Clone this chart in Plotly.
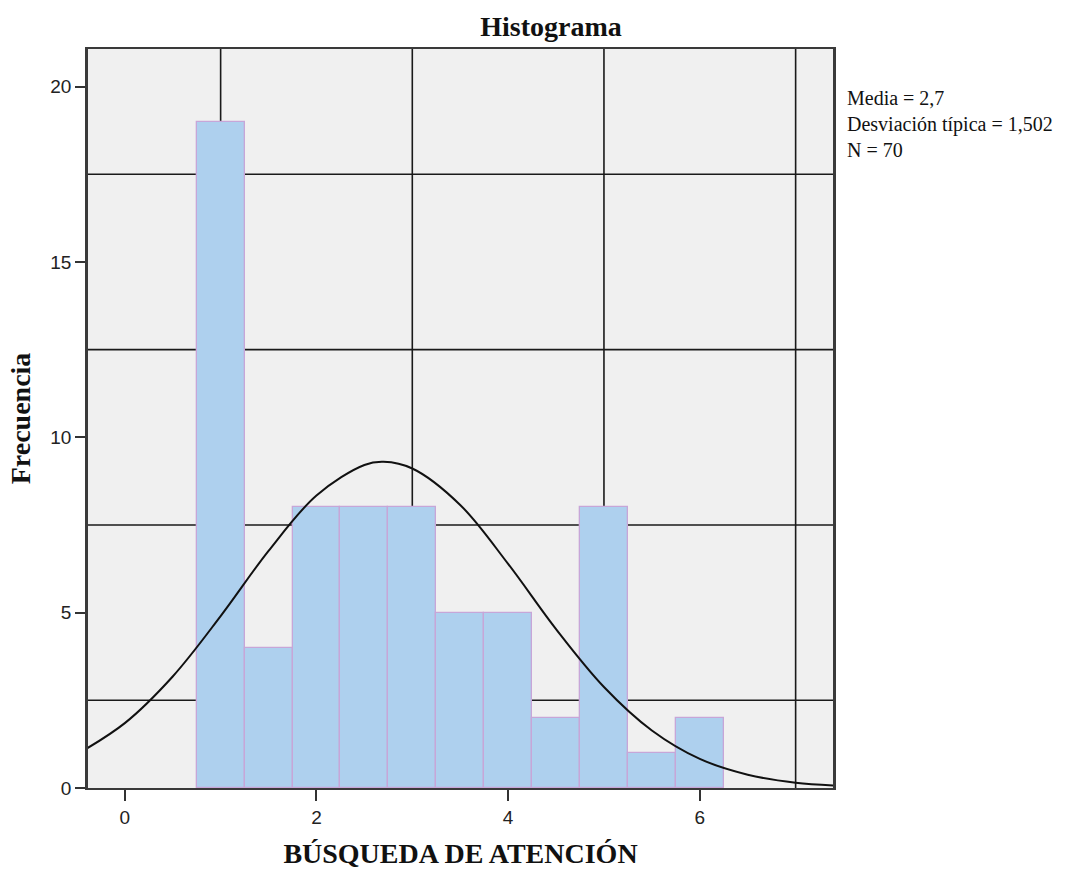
import plotly.graph_objects as go

# Histogram bins (centers) and frequencies
bin_centers = [1.0, 1.5, 2.0, 2.5, 3.0, 3.5, 4.0, 4.5, 5.0, 5.5, 6.0]
frequencies = [19, 4, 8, 8, 8, 5, 5, 2, 8, 1, 2]
bin_width = 0.5

# Normal curve
curve_x = [-0.5, 0.0, 0.5, 1.0, 1.5, 2.0, 2.5, 2.7, 3.0, 3.5, 4.0, 4.5, 5.0, 5.5, 6.0, 6.5, 7.0, 7.5]
curve_y = [0.96, 1.85, 3.18, 4.90, 6.76, 8.34, 9.21, 9.30, 9.11, 8.07, 6.39, 4.53, 2.88, 1.64, 0.83, 0.38, 0.15, 0.06]

stats_text = ["Media = 2,7", "Desviación típica = 1,502", "N = 70"]

x_ticks = [0, 2, 4, 6]
y_ticks = [0, 5, 10, 15, 20]
x_grid = [1, 3, 5, 7]
y_grid = [2.5, 7.5, 12.5, 17.5]

serif = "Liberation Serif"
sans = "Liberation Sans"

W, H = 1072, 869
L, R, T, B = 88, 239, 49, 81
plot_h = H - T - B

fig = go.Figure()
fig.add_trace(go.Bar(
    x=bin_centers, y=frequencies, width=bin_width,
    marker=dict(color="#aed0ee", line=dict(color="#c7a6d8", width=1.3)),
    showlegend=False, hoverinfo="x+y",
))
fig.add_trace(go.Scatter(
    x=curve_x, y=curve_y, mode="lines",
    line=dict(color="#111111", width=2, shape="spline", smoothing=1.0),
    showlegend=False, hoverinfo="skip",
))

grid_style = dict(color="#1a1a1a", width=1.6)
shapes = []
for gx in x_grid:
    shapes.append(dict(type="line", xref="x", yref="paper", x0=gx, x1=gx, y0=0, y1=1,
                       line=grid_style, layer="below"))
for gy in y_grid:
    shapes.append(dict(type="line", xref="paper", yref="y", x0=0, x1=1, y0=gy, y1=gy,
                       line=grid_style, layer="below"))

annotations = [dict(
    text="<br>".join(stats_text), xref="paper", yref="paper",
    x=(845 - L) / (W - L - R), xanchor="left",
    y=1.0 - (124 - T) / plot_h, yanchor="middle", align="left",
    showarrow=False, font=dict(family=serif, size=20, color="#111111"),
)]

fig.update_layout(
    width=W, height=H,
    margin=dict(l=L, r=R, t=T, b=B),
    paper_bgcolor="white",
    plot_bgcolor="#f0f0f0",
    bargap=0,
    shapes=shapes,
    annotations=annotations,
    title=dict(text="<b>Histograma</b>", font=dict(family=serif, size=28, color="#111111"),
               x=551 / W, xref="container", xanchor="center",
               y=1.0 - 26 / H, yref="container", yanchor="middle"),
)

fig.update_xaxes(
    range=[-0.384, 7.39],
    tickvals=x_ticks, ticktext=[str(v) for v in x_ticks],
    ticks="outside", ticklen=11, tickwidth=2, tickcolor="#333333",
    tickfont=dict(family=sans, size=19, color="#222222"),
    showgrid=False, zeroline=False, automargin=False,
    showline=True, linecolor="#3a3a3a", linewidth=2, mirror=True,
    title=dict(text="<b>BÚSQUEDA DE ATENCIÓN</b>", font=dict(family=serif, size=28, color="#111111"),
               standoff=24),
)
fig.update_yaxes(
    range=[0, 21.07],
    tickvals=y_ticks, ticktext=[str(v) for v in y_ticks],
    ticks="outside", ticklen=10, tickwidth=2, tickcolor="#333333",
    tickfont=dict(family=sans, size=19, color="#222222"),
    showgrid=False, zeroline=False, automargin=False,
    showline=True, linecolor="#3a3a3a", linewidth=2.5, mirror=True,
    title=dict(text="<b>Frecuencia</b>", font=dict(family=serif, size=28, color="#111111"),
               standoff=12),
)

fig.write_html("out.html")
